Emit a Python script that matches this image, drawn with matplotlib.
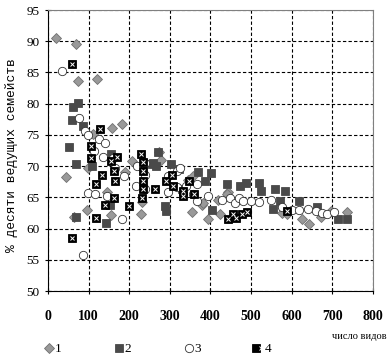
import matplotlib
matplotlib.use("Agg")
import matplotlib.pyplot as plt
from matplotlib.legend_handler import HandlerTuple

# series 1 - gray diamonds
x1 = [20, 68, 73, 120, 182, 157, 111, 44, 99, 63, 97, 146, 155, 207, 229, 232, 273, 279,
      190, 344, 357, 355, 378, 393, 423, 418, 443, 382, 440, 588, 576, 625, 643, 673, 696, 736]
y1 = [90.5, 89.6, 83.7, 84.0, 76.8, 76.1, 75.1, 68.2, 69.7, 61.8, 62.9, 65.8, 62.1, 70.8, 62.3, 64.3, 72.3, 71.0,
      69.0, 67.8, 68.5, 62.7, 63.7, 61.5, 62.4, 64.6, 65.8, 64.1, 65.5, 62.3, 62.5, 61.6, 60.8, 61.9, 62.8, 62.6]

# series 2 - dark squares
x2 = [51, 58, 62, 75, 85, 69, 108, 68, 144, 152, 154, 255, 259, 267, 271, 288, 290, 303, 323, 331,
      370, 387, 402, 403, 440, 473, 488, 520, 524, 558, 584, 555, 571, 618, 662, 713, 735]
y2 = [73.1, 77.4, 79.5, 80.1, 76.5, 70.4, 70.1, 61.8, 60.9, 63.7, 71.9, 70.4, 70.5, 70.0, 72.2, 63.6, 62.8, 70.4, 69.5, 66.3,
      69.0, 67.6, 68.9, 63.0, 67.2, 66.8, 67.3, 67.3, 66.0, 66.4, 66.0, 63.2, 64.4, 64.4, 63.4, 61.5, 61.5]

# series 3 - open circles
x3 = [34, 76, 90, 99, 125, 140, 113, 135, 160, 85, 182, 98, 115, 145, 165, 188, 217, 240, 219, 240, 240,
      296, 296, 317, 317, 325, 340, 357, 366, 366, 395, 428, 448, 460, 471, 481, 501, 520, 548, 575,
      600, 617, 641, 660, 674, 688, 705]
y3 = [85.3, 77.7, 75.6, 75.0, 74.4, 73.7, 72.4, 71.4, 71.3, 55.8, 61.5, 65.7, 65.5, 65.2, 69.7, 68.4, 66.9, 66.3, 70.1, 70.5, 68.6,
      65.8, 68.4, 66.7, 69.3, 69.7, 66.9, 65.5, 67.1, 64.4, 65.2, 64.6, 64.9, 64.1, 64.9, 64.4, 64.4, 64.2, 64.5, 63.5,
      62.9, 63.0, 63.1, 62.8, 62.5, 62.3, 62.6]

# series 4 - black squares with white cross
x4 = [58, 129, 105, 105, 169, 154, 134, 163, 165, 117, 58, 118, 140, 163, 200, 230, 233, 233, 233, 235, 231,
      263, 290, 305, 308, 333, 333, 347, 359, 442, 456, 464, 477, 489, 588]
y4 = [86.3, 76.0, 73.2, 71.3, 71.5, 70.8, 68.6, 69.3, 67.6, 67.1, 58.5, 61.7, 63.8, 64.9, 63.6, 72.0, 70.6, 69.2, 67.6, 66.3, 64.9,
      66.4, 67.6, 68.6, 66.9, 66.0, 65.3, 67.6, 65.5, 61.6, 62.4, 61.7, 62.3, 62.6, 62.8]

labels = ["1", "2", "3", "4"]

fig = plt.figure(figsize=(3.92, 3.58), dpi=100)
ax = fig.add_axes([0.1224, 0.187, 0.829, 0.785])

h1, = ax.plot(x1, y1, ls="none", marker="D", ms=5.5, mfc="#999999", mec="#707070", mew=0.6, zorder=3)
h2, = ax.plot(x2, y2, ls="none", marker="s", ms=5.5, mfc="#4a4a4a", mec="#4a4a4a", mew=0.6, zorder=3)
h3, = ax.plot(x3, y3, ls="none", marker="o", ms=6, mfc="white", mec="#333333", mew=0.6, zorder=4)
h4a, = ax.plot(x4, y4, ls="none", marker="s", ms=5.5, mfc="black", mec="black", mew=0.6, zorder=5)
h4b, = ax.plot(x4, y4, ls="none", marker="x", ms=2.8, mec="white", mew=0.7, zorder=6)

ax.set_xlim(0, 800)
ax.set_ylim(50, 95)
ax.set_xticks(range(0, 801, 100))
ax.set_yticks(range(50, 96, 5))
ax.grid(True, color="black", linestyle=(0, (3, 2)), linewidth=0.8)
ax.set_axisbelow(True)

for s in ["top", "right"]:
    ax.spines[s].set_color("#808080")
for s in ["left", "bottom"]:
    ax.spines[s].set_color("black")

ax.tick_params(direction="inout", length=5, width=0.8, colors="black")
ax.tick_params(axis="x", pad=11)
for t in ax.get_xticklabels():
    t.set_fontfamily("Liberation Serif")
    t.set_fontweight("bold")
    t.set_fontsize(10)
for t in ax.get_yticklabels():
    t.set_fontfamily("Liberation Serif")
    t.set_fontsize(9.5)

ax.set_ylabel("% десяти ведущих семейств", fontfamily="Liberation Mono", fontsize=9.3)
ax.yaxis.set_label_coords(-0.092, 0.484)
fig.text(0.916, 0.059, "число видов", fontfamily="Liberation Serif", fontsize=7.5, ha="center", va="center")

fig.legend([h1, h2, h3, (h4a, h4b)], labels, loc="center left", bbox_to_anchor=(0.08, 0.025),
           ncol=4, frameon=False, handlelength=0.8, handletextpad=0.05, columnspacing=3.95,
           prop={"family": "Liberation Serif", "size": 9.5},
           handler_map={tuple: HandlerTuple(ndivide=None, pad=0)})

fig.savefig("out.png", dpi=100)
